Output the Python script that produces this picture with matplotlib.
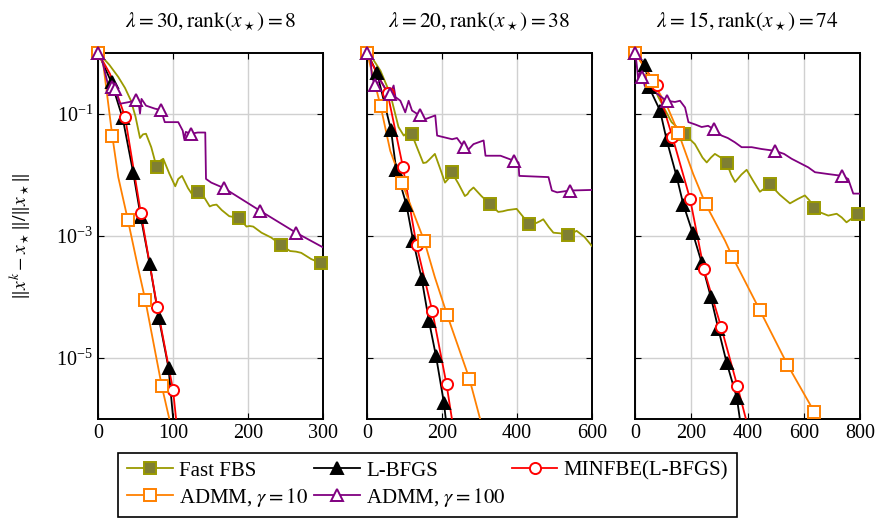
import matplotlib
matplotlib.use("Agg")
import matplotlib.pyplot as plt
import numpy as np
from matplotlib.lines import Line2D
from matplotlib.ticker import NullLocator, LogFormatterMathtext

plt.rcParams['font.family'] = 'serif'
plt.rcParams['font.serif'] = ['Liberation Serif', 'DejaVu Serif']
plt.rcParams['mathtext.fontset'] = 'stix'

# values are log10 of the relative error
titles = [r'$\lambda = 30, \mathrm{rank}(x_\star) = 8$',
          r'$\lambda = 20, \mathrm{rank}(x_\star) = 38$',
          r'$\lambda = 15, \mathrm{rank}(x_\star) = 74$']
xmax = [300, 600, 800]
xticks = [[0, 100, 200, 300], [0, 200, 400, 600], [0, 200, 400, 600, 800]]
labels = ['Fast FBS', 'L-BFGS', 'MINFBE(L-BFGS)', r'ADMM, $\gamma = 10$', r'ADMM, $\gamma = 100$']

# panel 1 (lambda = 30)
fbs1_x = [0, 15, 27, 36, 44, 50, 56, 60, 64, 71, 78, 82, 87, 95, 103, 107, 112, 120, 127, 133, 141, 149, 153,
          158, 165, 175, 188, 198, 202, 207, 218, 231, 244, 256, 264, 271, 284, 297, 300]
fbs1_L = [0, -0.2, -0.40, -0.58, -0.79, -1.05, -1.40, -1.34, -1.33, -1.55, -1.87, -1.78, -1.74, -1.98, -2.19,
          -2.07, -2.02, -2.22, -2.35, -2.29, -2.36, -2.52, -2.50, -2.49, -2.58, -2.68, -2.71, -2.85, -2.84,
          -2.85, -2.95, -3.03, -3.15, -3.25, -3.26, -3.28, -3.38, -3.45, -3.47]
fbs1_m = [0, 78, 133, 188, 244, 297]
lbfgs1_x = [0, 18, 33, 47, 57, 69, 81, 94, 101]
lbfgs1_L = [0, -0.49, -1.08, -1.97, -2.69, -3.47, -4.34, -5.16, -6.1]
lbfgs1_m = [0, 18, 33, 47, 57, 69, 81, 94]
minfbe1_x = [0, 16, 36, 57, 79, 100, 105]
minfbe1_L = [0, -0.35, -1.05, -2.62, -4.17, -5.52, -6.1]
minfbe1_m = [0, 36, 57, 79, 100]
admm10_1_x = [0, 7, 19, 27, 40, 53, 63, 85, 97]
admm10_1_L = [0, -0.19, -1.36, -2.04, -2.75, -3.5, -4.05, -5.46, -6.1]
admm10_1_m = [0, 19, 40, 63, 85]
admm100_1_x = [0, 4, 13, 18, 23, 29, 42, 50, 54, 56, 58, 64, 76, 84, 89, 107, 113, 115, 117, 124, 133, 143,
               144, 151, 168, 216, 264, 300]
admm100_1_L = [0, -0.05, -0.51, -0.57, -0.60, -0.84, -0.81, -0.78, -0.80, -1.0, -0.76, -0.87, -0.92, -0.94,
               -1.14, -1.14, -1.28, -1.42, -1.30, -1.33, -1.31, -1.31, -2.07, -2.13, -2.22, -2.59, -2.95, -3.19]
admm100_1_m = [0, 18, 23, 50, 84, 124, 168, 216, 264]

# panel 2 (lambda = 20)
fbs2_x = [0, 15, 36, 62, 84, 98, 108, 119, 135, 150, 158, 165, 181, 195, 208, 218, 226, 244, 261, 268, 273,
          284, 305, 328, 350, 362, 375, 399, 415, 432, 452, 462, 470, 485, 497, 515, 537, 559, 580, 600]
fbs2_L = [0, -0.1, -0.30, -0.68, -1.22, -1.36, -1.31, -1.33, -1.58, -1.81, -1.80, -1.76, -1.66, -1.90, -2.13,
          -2.06, -1.96, -2.15, -2.35, -2.32, -2.27, -2.21, -2.35, -2.48, -2.61, -2.60, -2.58, -2.56, -2.68,
          -2.81, -2.79, -2.76, -2.73, -2.86, -2.95, -2.96, -2.99, -2.92, -3.02, -3.17]
fbs2_m = [0, 119, 226, 328, 432, 537]
lbfgs2_x = [0, 27, 64, 78, 105, 123, 146, 165, 184, 205, 212]
lbfgs2_L = [0, -0.34, -1.27, -1.92, -2.49, -3.08, -3.71, -4.39, -4.97, -5.73, -6.1]
lbfgs2_m = [0, 27, 64, 78, 105, 123, 146, 165, 184, 205]
minfbe2_x = [0, 27, 55, 96, 132, 174, 212, 229]
minfbe2_L = [0, -0.35, -0.67, -1.88, -3.15, -4.23, -5.43, -6.1]
minfbe2_m = [0, 55, 96, 132, 174, 212]
admm10_2_x = [0, 36, 62, 93, 153, 181, 214, 273, 306]
admm10_2_L = [0, -0.87, -1.61, -2.13, -3.09, -3.68, -4.30, -5.34, -6.1]
admm10_2_m = [0, 36, 93, 153, 214, 273]
admm100_2_x = [0, 9, 13, 22, 35, 50, 62, 71, 76, 89, 102, 111, 120, 140, 156, 182, 187, 227, 240, 258, 267,
               284, 311, 316, 356, 391, 404, 406, 484, 493, 507, 540, 600]
admm100_2_L = [0, -0.05, -0.40, -0.54, -0.45, -0.60, -0.68, -0.54, -0.73, -0.79, -0.98, -0.79, -0.95, -1.03,
               -1.09, -1.03, -1.36, -1.42, -1.40, -1.55, -1.61, -1.50, -1.44, -1.69, -1.69, -1.77, -1.80,
               -2.02, -2.04, -2.26, -2.29, -2.26, -2.25]
admm100_2_m = [0, 22, 62, 140, 258, 391, 540]

# panel 3 (lambda = 15)
fbs3_x = [0, 20, 47, 83, 130, 175, 213, 240, 255, 270, 284, 305, 326, 342, 356, 378, 397, 420, 444, 462, 480,
          515, 551, 578, 604, 620, 638, 660, 687, 717, 735, 752, 770, 792, 800]
fbs3_L = [0, -0.12, -0.35, -0.73, -1.14, -1.33, -1.50, -1.72, -1.80, -1.72, -1.66, -1.72, -1.81, -2.0, -2.12,
          -2.0, -1.92, -2.1, -2.28, -2.22, -2.16, -2.33, -2.47, -2.4, -2.34, -2.42, -2.54, -2.62, -2.67,
          -2.64, -2.7, -2.78, -2.72, -2.64, -2.63]
fbs3_m = [0, 175, 326, 480, 638, 792]
lbfgs3_x = [0, 36, 50, 89, 113, 148, 172, 205, 237, 270, 296, 326, 362, 376]
lbfgs3_L = [0, -0.21, -0.57, -0.95, -1.44, -2.03, -2.49, -2.95, -3.44, -4.01, -4.52, -5.08, -5.65, -6.1]
lbfgs3_m = [0, 36, 50, 89, 113, 148, 172, 205, 237, 270, 296, 326, 362]
minfbe3_x = [0, 77, 133, 196, 245, 306, 364, 400]
minfbe3_L = [0, -0.54, -1.38, -2.40, -3.55, -4.49, -5.46, -6.1]
minfbe3_m = [0, 77, 133, 196, 245, 306, 364]
admm10_3_x = [0, 62, 118, 154, 207, 251, 320, 346, 444, 542, 637, 656]
admm10_3_L = [0, -0.46, -0.92, -1.31, -1.99, -2.48, -3.08, -3.34, -4.22, -5.11, -5.88, -6.1]
admm10_3_m = [0, 62, 154, 251, 346, 444, 542, 637]
admm100_3_x = [0, 5, 12, 18, 26, 35, 45, 60, 80, 100, 113, 142, 160, 178, 190, 215, 237, 260, 281, 308, 330,
               355, 379, 415, 450, 498, 530, 557, 616, 640, 687, 737, 758, 776, 800]
admm100_3_L = [0, -0.15, -0.46, -0.30, -0.40, -0.55, -0.50, -0.62, -0.68, -0.75, -0.79, -0.81, -0.79, -0.90,
               -1.14, -1.18, -1.22, -1.20, -1.26, -1.36, -1.40, -1.47, -1.55, -1.55, -1.58, -1.61, -1.66,
               -1.74, -1.88, -1.96, -1.99, -2.02, -2.07, -2.31, -2.31]
admm100_3_m = [0, 26, 113, 281, 498, 737]

panels = [
    [(fbs1_x, fbs1_L, fbs1_m), (lbfgs1_x, lbfgs1_L, lbfgs1_m), (minfbe1_x, minfbe1_L, minfbe1_m),
     (admm10_1_x, admm10_1_L, admm10_1_m), (admm100_1_x, admm100_1_L, admm100_1_m)],
    [(fbs2_x, fbs2_L, fbs2_m), (lbfgs2_x, lbfgs2_L, lbfgs2_m), (minfbe2_x, minfbe2_L, minfbe2_m),
     (admm10_2_x, admm10_2_L, admm10_2_m), (admm100_2_x, admm100_2_L, admm100_2_m)],
    [(fbs3_x, fbs3_L, fbs3_m), (lbfgs3_x, lbfgs3_L, lbfgs3_m), (minfbe3_x, minfbe3_L, minfbe3_m),
     (admm10_3_x, admm10_3_L, admm10_3_m), (admm100_3_x, admm100_3_L, admm100_3_m)],
]

styles = [
    dict(color='#9a9a00', marker='s', mfc='#7f7f33', mec='#9a9a00'),
    dict(color='black', marker='^', mfc='black', mec='black'),
    dict(color='#ff0000', marker='o', mfc='white', mec='#ff0000'),
    dict(color='#ff8000', marker='s', mfc='white', mec='#ff8000'),
    dict(color='#800080', marker='^', mfc='white', mec='#800080'),
]

fig = plt.figure(figsize=(8.76, 5.23), dpi=100)
lefts = [98, 367, 635]
axes = []
for i in range(3):
    ax = fig.add_axes([lefts[i] / 876, 104 / 523, 225 / 876, 366.5 / 523])
    axes.append(ax)
    for (x, L, m), st in zip(panels[i], styles):
        x = np.array(x)
        y = 10.0 ** np.array(L)
        idx = [list(x).index(v) for v in m]
        ax.plot(x, y, color=st['color'], lw=1.3, zorder=3)
        ax.plot(x[idx], y[idx], ls='none', marker=st['marker'], ms=8, mew=1.4,
                mfc=st['mfc'], mec=st['mec'], clip_on=False, zorder=4)
    ax.set_yscale('log')
    ax.set_ylim(1e-6, 1)
    ax.set_xlim(0, xmax[i])
    ax.set_xticks(xticks[i])
    ax.set_yticks([1e-1, 1e-3, 1e-5])
    ax.yaxis.set_minor_locator(NullLocator())
    ax.yaxis.set_major_formatter(LogFormatterMathtext())
    ax.grid(True, color='#d0d0d0', lw=1.0)
    ax.set_axisbelow(True)
    ax.tick_params(direction='in', length=4, width=0.8, top=True, right=True, labelsize=14.5)
    for s in ax.spines.values():
        s.set_linewidth(1.4)
    ax.set_title(titles[i], fontsize=15.5, pad=18)
    if i > 0:
        ax.set_yticklabels([])

axes[0].set_ylabel(r'$\Vert x^k - x_\star\Vert / \Vert x_\star\Vert$', fontsize=14)
axes[0].yaxis.set_label_coords(-0.29, 0.5)

handles = [Line2D([], [], color=st['color'], lw=1.3, marker=st['marker'], ms=8, mew=1.4,
                  mfc=st['mfc'], mec=st['mec']) for st in styles]
order = [0, 3, 1, 4, 2]
leg = fig.legend([handles[k] for k in order], [labels[k] for k in order], ncol=3, loc='center',
                 bbox_to_anchor=(0.488, 0.073), fontsize=15, frameon=True, fancybox=False,
                 edgecolor='black', framealpha=1, handlelength=2.2, columnspacing=0.3,
                 handletextpad=0.3, labelspacing=0.25, borderpad=0.4)
leg.get_frame().set_linewidth(1.2)

fig.savefig('out.png', dpi=100)
